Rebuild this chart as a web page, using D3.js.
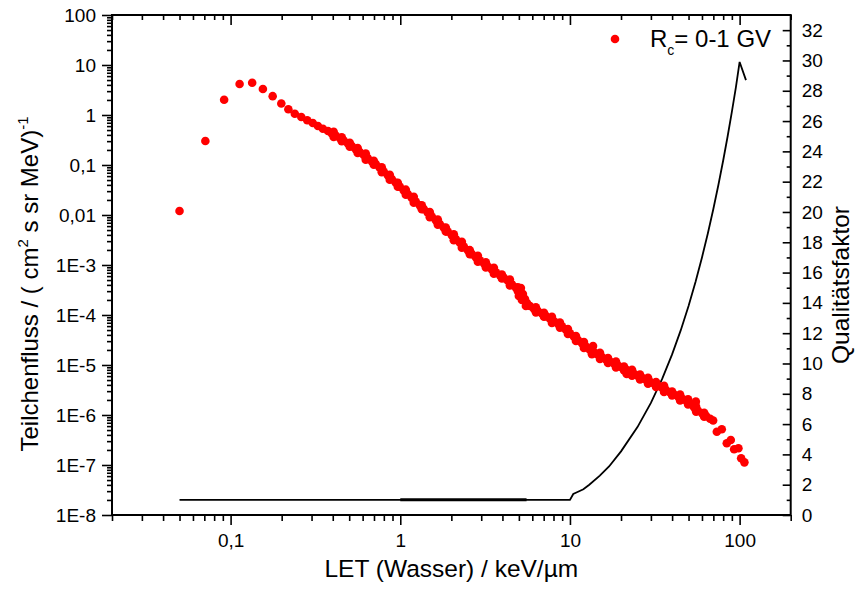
<!DOCTYPE html>
<html>
<head>
<meta charset="utf-8">
<script src="https://cdn.jsdelivr.net/npm/d3@7"></script>
<style>
  body { margin: 0; background: #fff; }
  svg { font-family: "Liberation Sans", Arial, sans-serif; }
</style>
</head>
<body>
<svg id="canvas" width="858" height="596"></svg>
<script>
/********** Data **********/
// LET (keV/um) and particle flux
var letValues = [
  0.05, 0.071, 0.0916, 0.113, 0.134, 0.155, 0.177, 0.199, 0.219, 0.239,
  0.261, 0.283, 0.305, 0.327, 0.350, 0.375, 0.394, 0.416, 0.440, 0.464,
  0.490, 0.518, 0.546, 0.577, 0.609, 0.643, 0.679, 0.717, 0.757, 0.799,
  0.844, 0.891, 0.941, 0.993, 1.048, 1.107, 1.169, 1.234, 1.303, 1.376,
  1.453, 1.534, 1.620, 1.710, 1.806, 1.905, 2.013, 2.125, 2.244, 2.370,
  2.500, 2.641, 2.788, 2.944, 3.109, 3.283, 3.466, 3.660, 3.864, 4.080,
  4.308, 4.548, 4.802, 5.070, 5.14, 5.28, 5.43, 5.58, 5.81, 6.134,
  6.47, 6.836, 7.22, 7.62, 8.05, 8.50, 8.97, 9.47, 10.0, 10.56,
  11.15, 11.77, 12.43, 13.12, 13.68, 13.86, 14.63, 15.45, 16.31, 17.22,
  18.18, 19.20, 20.27, 21.40, 21.6, 22.59, 23.86, 25.19, 26.60, 28.08,
  29.65, 31.30, 33.04, 34.89, 36.84, 38.90, 41.07, 43.37, 45.79, 48.35,
  51.05, 53.90, 55.2, 56.9, 60.1, 63.5, 67.0, 69.8, 73.4, 78.5,
  84.0, 88.7, 92.8, 98.4, 102.1, 106.7
];
var fluxValues = [
  0.012, 0.302, 2.02, 4.17, 4.43, 3.31, 2.38, 1.70, 1.30, 1.06,
  0.912, 0.783, 0.692, 0.603, 0.532, 0.479, 0.432, 0.387, 0.347, 0.310,
  0.273, 0.239, 0.208, 0.182, 0.158, 0.137, 0.119, 0.104, 0.0879, 0.0738,
  0.0622, 0.0522, 0.0441, 0.037, 0.031, 0.0262, 0.022, 0.0185, 0.0156, 0.0131,
  0.0111, 0.00933, 0.00783, 0.00661, 0.00555, 0.00468, 0.00393, 0.0033, 0.00278, 0.00233,
  0.00197, 0.00165, 0.00143, 0.00124, 0.00108, 9.33e-4, 8.17e-4, 7.18e-4, 6.28e-4, 5.52e-4,
  4.83e-4, 4.13e-4, 3.53e-4, 3.02e-4, 3.47e-4, 2.63e-4, 2.09e-4, 1.74e-4, 1.51e-4, 1.34e-4,
  1.20e-4, 1.07e-4, 9.51e-5, 8.47e-5, 7.52e-5, 6.67e-5, 5.92e-5, 5.08e-5, 4.31e-5, 3.66e-5,
  3.15e-5, 2.72e-5, 2.33e-5, 2.0e-5, 2.40e-5, 1.79e-5, 1.61e-5, 1.44e-5, 1.29e-5, 1.17e-5,
  1.07e-5, 9.77e-6, 8.91e-6, 8.09e-6, 6.61e-6, 7.35e-6, 6.67e-6, 6.05e-6, 5.52e-6, 5.06e-6,
  4.63e-6, 4.25e-6, 3.87e-6, 3.50e-6, 3.15e-6, 2.84e-6, 2.57e-6, 2.34e-6, 2.14e-6, 1.95e-6,
  1.68e-6, 1.43e-6, 1.85e-6, 1.22e-6, 1.08e-6, 9.55e-7, 8.43e-7, 7.76e-7, 4.63e-7, 5.18e-7,
  2.72e-7, 3.16e-7, 2.06e-7, 2.16e-7, 1.36e-7, 1.13e-7
];
// further points read at one edge of the dense band
var letBand = [
  0.405, 0.452, 0.504, 0.561, 0.626, 0.698, 0.778, 0.867, 0.967, 1.078,
  1.201, 1.339, 1.493, 1.664, 1.855, 2.068, 2.306, 2.570, 2.866, 3.194,
  3.562, 3.971, 4.426, 4.934, 5.0, 5.21, 5.50, 6.30, 7.03, 7.83,
  8.73, 9.73, 10.85, 12.09, 13.48, 15.03, 16.76, 18.68, 20.83, 23.22,
  25.88, 28.85, 32.17, 35.86, 39.98, 44.57, 49.69, 55.4, 61.8
];
var fluxBand = [
  0.365, 0.360, 0.232, 0.219, 0.128, 0.122, 0.0718, 0.064, 0.0368, 0.0321,
  0.0176, 0.0157, 0.00904, 0.00809, 0.00466, 0.00413, 0.00222, 0.00198, 0.00116, 0.00113,
  6.67e-4, 6.46e-4, 3.89e-4, 3.58e-4, 2.40e-4, 2.0e-4, 1.51e-4, 1.13e-4, 1.11e-4, 6.95e-5,
  7.05e-5, 4.17e-5, 3.80e-5, 2.19e-5, 2.17e-5, 1.32e-5, 1.38e-5, 8.91e-6, 9.33e-6, 6.08e-6,
  6.46e-6, 4.21e-6, 4.57e-6, 2.90e-6, 2.96e-6, 1.95e-6, 2.05e-6, 1.17e-6, 1.11e-6
];
// and at the other edge of the band
var letBand2 = [
  0.405, 0.452, 0.504, 0.561, 0.626, 0.698, 0.778, 0.867, 0.967, 1.078,
  1.201, 1.339, 1.493, 1.664, 1.855, 2.068, 2.306, 2.570, 2.866, 3.194,
  3.562, 3.971, 4.426, 4.934, 6.30, 7.03, 7.83, 8.73, 9.73, 10.85,
  12.09, 13.48, 15.03, 16.76, 18.68, 20.83, 23.22, 25.88, 28.85, 32.17,
  35.86, 39.98, 44.57, 49.69, 55.4, 61.8
];
var fluxBand2 = [
  0.459, 0.299, 0.279, 0.174, 0.169, 0.101, 0.0904, 0.0508, 0.0443, 0.0255,
  0.0232, 0.0131, 0.0114, 0.00643, 0.0056, 0.00313, 0.00292, 0.00164, 0.00153, 8.95e-4,
  8.79e-4, 5.37e-4, 5.13e-4, 2.98e-4, 1.42e-4, 9.20e-5, 9.16e-5, 5.60e-5, 5.25e-5, 3.02e-5,
  2.88e-5, 1.64e-5, 1.75e-5, 1.10e-5, 1.17e-5, 7.76e-6, 8.02e-6, 5.13e-6, 5.55e-6, 3.63e-6,
  3.82e-6, 2.47e-6, 2.57e-6, 1.63e-6, 1.47e-6, 9.25e-7
];

// quality factor curve (right axis)
var qLet = [0.05, 10, 10.46, 11, 12, 13, 15, 17, 20, 25, 30, 35, 40, 45, 50, 55, 60, 65, 70, 75, 80, 85, 90, 95, 100, 109];
var qValues = [1, 1, 1.39, 1.5, 1.7, 2.0, 2.6, 3.2, 4.2, 5.8, 7.4, 9.0, 10.6, 12.2, 13.8, 15.4, 17.0, 18.6, 20.2, 21.8, 23.4, 25.0, 26.6, 28.2, 29.9, 28.7];
// second, overlapping flat part
var qOverlapLet = [1, 5.55];
var qOverlapValues = [1, 1];

var xTickValues = [0.1, 1, 10, 100];
var xTickLabels = ["0,1", "1", "10", "100"];
var yTickValues = [100, 10, 1, 0.1, 0.01, 1e-3, 1e-4, 1e-5, 1e-6, 1e-7, 1e-8];
var yTickLabels = ["100", "10", "1", "0,1", "0,01", "1E-3", "1E-4", "1E-5", "1E-6", "1E-7", "1E-8"];
var y2TickValues = [0, 2, 4, 6, 8, 10, 12, 14, 16, 18, 20, 22, 24, 26, 28, 30, 32];

var legendLabel = "R";
var legendSub = "c";
var legendRest = "= 0-1 GV";

/********** Initialisation **********/
var svg = d3.select("#canvas");
var plotLeft = 112, plotRight = 790.7, plotTop = 15, plotBottom = 515;

var x = d3.scaleLog().domain([0.02, 200]).range([plotLeft, plotRight]);
var y = d3.scaleLog().domain([1e-8, 100]).range([plotBottom, plotTop]);
var y2 = d3.scaleLinear().domain([0, 33]).range([plotBottom, plotTop]);

function minorTicks(lo, hi) {
  var out = [];
  for (var e = lo; e < hi; e++) {
    for (var m = 2; m <= 9; m++) {
      out.push(+(m * Math.pow(10, e)).toPrecision(6));
    }
  }
  return out;
}
var xMinor = minorTicks(-2, 3).filter(function(v) { return v >= 0.0199 && v <= 201; });
var yMinor = minorTicks(-8, 2);

/********** Axes **********/
var axisG = svg.append("g").attr("class", "axes");

// bottom (outward)
axisG.append("g").attr("transform", "translate(0," + plotBottom + ")")
  .call(d3.axisBottom(x).tickValues(xMinor).tickSize(6).tickFormat(""));
axisG.append("g").attr("transform", "translate(0," + plotBottom + ")")
  .call(d3.axisBottom(x).tickValues(xTickValues).tickSize(10).tickPadding(9)
    .tickFormat(function(d, i) { return xTickLabels[i]; }));

// top (inward)
axisG.append("g").attr("transform", "translate(0," + plotTop + ")")
  .call(d3.axisBottom(x).tickValues(xMinor).tickSize(5).tickFormat(""));
axisG.append("g").attr("transform", "translate(0," + plotTop + ")")
  .call(d3.axisBottom(x).tickValues(xTickValues).tickSize(10).tickFormat(""));

// left (outward)
axisG.append("g").attr("transform", "translate(" + plotLeft + ",0)")
  .call(d3.axisLeft(y).tickValues(yMinor).tickSize(5).tickFormat(""));
axisG.append("g").attr("transform", "translate(" + plotLeft + ",0)")
  .call(d3.axisLeft(y).tickValues(yTickValues).tickSize(10).tickPadding(6)
    .tickFormat(function(d, i) { return yTickLabels[i]; }));

// right (inward ticks, labels outside)
axisG.append("g").attr("transform", "translate(" + plotRight + ",0)")
  .call(d3.axisLeft(y2).tickValues(d3.range(1, 33, 2)).tickSize(4).tickFormat(""));
axisG.append("g").attr("transform", "translate(" + plotRight + ",0)")
  .call(d3.axisLeft(y2).tickValues(y2TickValues).tickSize(8).tickFormat(""));
axisG.append("g").attr("transform", "translate(" + plotRight + ",0)")
  .call(d3.axisRight(y2).tickValues(y2TickValues).tickSize(0).tickPadding(11)
    .tickFormat(function(d) { return d; }));

axisG.selectAll(".domain").remove();
axisG.selectAll("g").attr("font-size", null).attr("font-family", null);
axisG.selectAll(".tick line").attr("stroke", "#000").attr("stroke-width", 1.6);
axisG.selectAll(".tick text").style("font-size", "19px").attr("fill", "#000");

// frame
svg.append("rect")
  .attr("x", plotLeft).attr("y", plotTop)
  .attr("width", plotRight - plotLeft).attr("height", plotBottom - plotTop)
  .attr("fill", "none").attr("stroke", "#000").attr("stroke-width", 2);

/********** Quality factor line **********/
var qLine = d3.line()
  .x(function(d) { return x(d[0]); })
  .y(function(d) { return y2(d[1]); });

svg.append("path")
  .datum(d3.zip(qLet, qValues))
  .attr("d", qLine)
  .attr("fill", "none").attr("stroke", "#000").attr("stroke-width", 1.8);

svg.append("path")
  .datum(d3.zip(qOverlapLet, qOverlapValues))
  .attr("d", qLine)
  .attr("fill", "none").attr("stroke", "#000").attr("stroke-width", 3);

/********** Flux points **********/
var points = d3.zip(letValues, fluxValues)
  .concat(d3.zip(letBand, fluxBand))
  .concat(d3.zip(letBand2, fluxBand2));
svg.append("g")
  .selectAll("circle")
  .data(points)
  .enter()
  .append("circle")
  .attr("cx", function(d) { return x(d[0]); })
  .attr("cy", function(d) { return y(d[1]); })
  .attr("r", 4.3)
  .attr("fill", "#ff0000");

/********** Titles **********/
svg.append("text")
  .attr("x", (plotLeft + plotRight) / 2).attr("y", 577)
  .attr("text-anchor", "middle").style("font-size", "24.5px")
  .text("LET (Wasser) / keV/µm");

var yTitle = svg.append("text")
  .attr("transform", "translate(38,284) rotate(-90)")
  .attr("text-anchor", "middle").style("font-size", "24px");
yTitle.append("tspan").text("Teilchenfluss / ( cm");
yTitle.append("tspan").style("font-size", "15px").attr("dy", -10).text("2");
yTitle.append("tspan").attr("dy", 10).text(" s sr MeV)");
yTitle.append("tspan").style("font-size", "15px").attr("dy", -10).text("-1");

svg.append("text")
  .attr("transform", "translate(849,285) rotate(-90)")
  .attr("text-anchor", "middle").style("font-size", "24.5px")
  .text("Qualitätsfaktor");

/********** Legend **********/
svg.append("circle").attr("cx", 615).attr("cy", 39).attr("r", 4.3).attr("fill", "#ff0000");
var leg = svg.append("text").attr("x", 650).attr("y", 47).style("font-size", "24px");
leg.append("tspan").text(legendLabel);
leg.append("tspan").style("font-size", "14px").attr("dy", 8).text(legendSub);
leg.append("tspan").attr("dy", -8).text(legendRest);
</script>
</body>
</html>
